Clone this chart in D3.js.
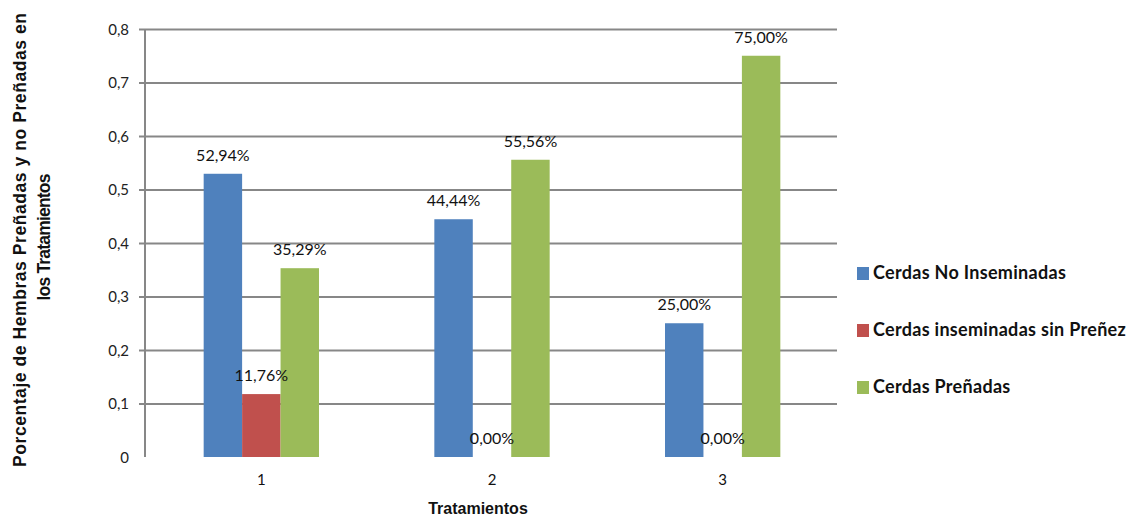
<!DOCTYPE html>
<html>
<head>
<meta charset="utf-8">
<script src="https://cdn.jsdelivr.net/npm/d3@7/dist/d3.min.js"></script>
<style>
  html, body { margin: 0; padding: 0; background: #fff; }
  svg { display: block; }
</style>
</head>
<body>
<svg id="chart" width="1129" height="517"></svg>
<script>
// Treatments on the x axis
const categories = ["1", "2", "3"];
// Series names (legend order)
const seriesNames = ["Cerdas No Inseminadas", "Cerdas inseminadas sin Preñez", "Cerdas Preñadas"];
// Proportion of sows per treatment, one array per series
const noInseminadas = [0.5294, 0.4444, 0.25];
const sinPrenez = [0.1176, 0.0, 0.0];
const prenadas = [0.3529, 0.5556, 0.75];
// Y tick values and labels
const yTicks = [0, 0.1, 0.2, 0.3, 0.4, 0.5, 0.6, 0.7, 0.8];
const yTickLabels = ["0", "0,1", "0,2", "0,3", "0,4", "0,5", "0,6", "0,7", "0,8"];
const yTitleLines = ["Porcentaje de Hembras Preñadas y no Preñadas en", "los Tratamientos"];
const xTitle = "Tratamientos";

const colors = ["#4F81BD", "#C0504D", "#9BBB59"];
const seriesValues = [noInseminadas, sinPrenez, prenadas];

const svg = d3.select("#chart");
const plot = { left: 146, right: 838, top: 29, bottom: 457 };

const x = d3.scaleBand()
  .domain(categories)
  .range([plot.left, plot.right])
  .paddingInner(0.5)
  .paddingOuter(0.25);

const xInner = d3.scaleBand()
  .domain(d3.range(seriesNames.length))
  .range([0, x.bandwidth()]);

const y = d3.scaleLinear().domain([0, 0.8]).range([plot.bottom, plot.top]);

// Horizontal gridlines with short outward ticks
const yAxis = d3.axisLeft(y)
  .tickValues(yTicks)
  .tickSize(-(plot.right - plot.left))
  .tickFormat((d, i) => yTickLabels[i]);

const gy = svg.append("g")
  .attr("transform", `translate(${plot.left - 1},0)`)
  .call(yAxis);
gy.select(".domain").remove();
gy.selectAll(".tick line")
  .attr("x1", -6)
  .attr("stroke", "#878787")
  .attr("stroke-width", 2)
  .filter(d => d === 0).remove();
gy.selectAll(".tick text")
  .attr("x", -16)
  .attr("dy", "0.35em")
  .attr("fill", "#222")
  .style("font-family", "Lato, 'Open Sans', sans-serif")
  .style("font-size", "15px");

// Vertical axis line
svg.append("line")
  .attr("x1", plot.left - 1).attr("x2", plot.left - 1)
  .attr("y1", plot.top).attr("y2", plot.bottom)
  .attr("stroke", "#878787").attr("stroke-width", 2);

// Bars
const groups = svg.append("g").selectAll("g")
  .data(categories)
  .join("g")
  .attr("transform", d => `translate(${x(d)},0)`);

groups.selectAll("rect")
  .data((c, ci) => seriesValues.map((vals, si) => ({ si, v: vals[ci] })))
  .join("rect")
  .attr("x", d => xInner(d.si))
  .attr("width", xInner.bandwidth())
  .attr("y", d => y(d.v))
  .attr("height", d => y(0) - y(d.v))
  .attr("fill", d => colors[d.si]);

// Value labels
const pct = v => (v * 100).toFixed(2).replace(".", ",") + "%";
groups.selectAll("text.val")
  .data((c, ci) => seriesValues.map((vals, si) => ({ si, v: vals[ci] })))
  .join("text")
  .attr("class", "val")
  .attr("x", d => xInner(d.si) + xInner.bandwidth() / 2)
  .attr("y", d => y(d.v) - 13)
  .attr("text-anchor", "middle")
  .attr("fill", "#111")
  .style("font-family", "Lato, 'Open Sans', sans-serif")
  .style("font-size", "16px")
  .text(d => pct(d.v));

// X category labels
const xAxis = d3.axisBottom(x).tickSize(0);
const gx = svg.append("g")
  .attr("transform", `translate(0,${plot.bottom})`)
  .call(xAxis);
gx.select(".domain").remove();
gx.selectAll(".tick text")
  .attr("y", 17)
  .attr("dy", "0.71em")
  .attr("fill", "#111")
  .style("font-family", "Lato, 'Open Sans', sans-serif")
  .style("font-size", "15px");

// Axis titles
svg.append("text")
  .attr("x", 478)
  .attr("y", 514)
  .attr("text-anchor", "middle")
  .attr("fill", "#111")
  .style("font-family", "'Liberation Sans', Arial, sans-serif")
  .style("font-weight", "bold")
  .style("font-size", "16px")
  .text(xTitle);

const yTitleX = [26, 50];
const yTitleCY = [240, 237];
const yTitleLen = [454, 127];
yTitleLines.forEach((line, i) => {
  svg.append("text")
    .attr("transform", `translate(${yTitleX[i]},${yTitleCY[i]}) rotate(-90)`)
    .attr("text-anchor", "middle")
    .attr("textLength", yTitleLen[i])
    .attr("lengthAdjust", "spacing")
    .attr("fill", "#111")
    .style("font-family", "'Liberation Sans', Arial, sans-serif")
    .style("font-weight", "bold")
    .style("font-size", "17.5px")
    .text(line);
});

// Legend
const legend = svg.append("g").selectAll("g")
  .data(seriesNames)
  .join("g")
  .attr("transform", (d, i) => `translate(857,${273 + i * 57})`);
legend.append("rect")
  .attr("x", 0).attr("y", -6)
  .attr("width", 12).attr("height", 13)
  .attr("fill", (d, i) => colors[i]);
legend.append("text")
  .attr("x", 16)
  .attr("dy", "0.35em")
  .attr("fill", "#111")
  .style("font-family", "Lato, 'Open Sans', sans-serif")
  .style("font-weight", "bold")
  .style("font-size", "18px")
  .style("letter-spacing", "0.3px")
  .text(d => d);
</script>
</body>
</html>
